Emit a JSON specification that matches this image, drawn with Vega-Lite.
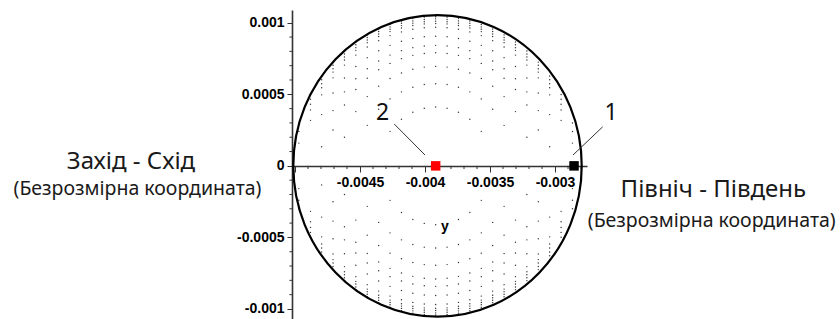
{
  "$schema": "https://vega.github.io/schema/vega-lite/v6.json",
  "width": 295,
  "height": 309,
  "autosize": {"type": "none"},
  "padding": {"left": 292, "top": 10, "right": 253, "bottom": 0},
  "background": "#ffffff",
  "config": {"view": {"stroke": null}},
  "layer": [
    {
      "data": {"values": [
        {"x": -0.0049704, "ys": [0.000159, 0.00024, 0.0003, -0.000159, -0.00024, -0.0003]},
        {"x": -0.0048807, "ys": [0.000318, 0.000391, 0.00043, 0.000465, 0.000499, -0.000318, -0.000391, -0.00043, -0.000465, -0.000499]},
        {"x": -0.004795, "ys": [0.000133, 0.000358, 0.000496, 0.000546, 0.000574, 0.000602, 0.000628, -0.000133, -0.000358, -0.000496, -0.000546, -0.000574, -0.000602, -0.000628]},
        {"x": -0.0047073, "ys": [0.000251, 0.000386, 0.000509, 0.000615, 0.000655, 0.000679, 0.000703, 0.000725, -0.000251, -0.000386, -0.000509, -0.000615, -0.000655, -0.000679, -0.000703, -0.000725]},
        {"x": -0.0046196, "ys": [0.0002, 0.000425, 0.000517, 0.000614, 0.000704, 0.00074, 0.000761, 0.000782, 0.000802, -0.0002, -0.000425, -0.000517, -0.000614, -0.000704, -0.00074, -0.000761, -0.000782, -0.000802]},
        {"x": -0.0045319, "ys": [0.000379, 0.000534, 0.000609, 0.000694, 0.000774, 0.000807, 0.000826, 0.000846, 0.000865, -0.000379, -0.000534, -0.000609, -0.000694, -0.000774, -0.000807, -0.000826, -0.000846, -0.000865]},
        {"x": -0.0044442, "ys": [0.000283, 0.000484, 0.000612, 0.000679, 0.000756, 0.00083, 0.000861, 0.000879, 0.000897, 0.000915, -0.000283, -0.000484, -0.000612, -0.000679, -0.000756, -0.00083, -0.000861, -0.000879, -0.000897, -0.000915]},
        {"x": -0.0043565, "ys": [0.000395, 0.000557, 0.000671, 0.000733, 0.000804, 0.000875, 0.000904, 0.000921, 0.000939, 0.000956, -0.000395, -0.000557, -0.000671, -0.000733, -0.000804, -0.000875, -0.000904, -0.000921, -0.000939, -0.000956]},
        {"x": -0.0042688, "ys": [0.000241, 0.000468, 0.00061, 0.000716, 0.000774, 0.000842, 0.00091, 0.000938, 0.000955, 0.000971, 0.000988, -0.000241, -0.000468, -0.00061, -0.000716, -0.000774, -0.000842, -0.00091, -0.000938, -0.000955, -0.000971, -0.000988]},
        {"x": -0.0041811, "ys": [0.000326, 0.000517, 0.000649, 0.000749, 0.000805, 0.000871, 0.000936, 0.000963, 0.00098, 0.000996, 0.001012, -0.000326, -0.000517, -0.000649, -0.000749, -0.000805, -0.000871, -0.000936, -0.000963, -0.00098, -0.000996, -0.001012]},
        {"x": -0.0040934, "ys": [0.000375, 0.000549, 0.000675, 0.000772, 0.000826, 0.00089, 0.000954, 0.000981, 0.000997, 0.001013, 0.001029, -0.000375, -0.000549, -0.000675, -0.000772, -0.000826, -0.00089, -0.000954, -0.000981, -0.000997, -0.001013, -0.001029]},
        {"x": -0.0040057, "ys": [0.000402, 0.000568, 0.00069, 0.000785, 0.000838, 0.000902, 0.000965, 0.000992, 0.001007, 0.001023, 0.001039, -0.000402, -0.000568, -0.00069, -0.000785, -0.000838, -0.000902, -0.000965, -0.000992, -0.001007, -0.001023, -0.001039]},
        {"x": -0.003918, "ys": [0.000411, 0.000574, 0.000695, 0.00079, 0.000842, 0.000906, 0.000969, 0.000995, 0.001011, 0.001027, 0.001042, -0.000411, -0.000574, -0.000695, -0.00079, -0.000842, -0.000906, -0.000969, -0.000995, -0.001011, -0.001027, -0.001042]},
        {"x": -0.0038303, "ys": [0.000402, 0.000568, 0.00069, 0.000785, 0.000838, 0.000902, 0.000965, 0.000992, 0.001007, 0.001023, 0.001039, -0.000402, -0.000568, -0.00069, -0.000785, -0.000838, -0.000902, -0.000965, -0.000992, -0.001007, -0.001023, -0.001039]},
        {"x": -0.0037426, "ys": [0.000375, 0.000549, 0.000675, 0.000772, 0.000826, 0.00089, 0.000954, 0.000981, 0.000997, 0.001013, 0.001029, -0.000375, -0.000549, -0.000675, -0.000772, -0.000826, -0.00089, -0.000954, -0.000981, -0.000997, -0.001013, -0.001029]},
        {"x": -0.0036549, "ys": [0.000326, 0.000517, 0.000649, 0.000749, 0.000805, 0.000871, 0.000936, 0.000963, 0.00098, 0.000996, 0.001012, -0.000326, -0.000517, -0.000649, -0.000749, -0.000805, -0.000871, -0.000936, -0.000963, -0.00098, -0.000996, -0.001012]},
        {"x": -0.0035672, "ys": [0.000241, 0.000468, 0.00061, 0.000716, 0.000774, 0.000842, 0.00091, 0.000938, 0.000955, 0.000971, 0.000988, -0.000241, -0.000468, -0.00061, -0.000716, -0.000774, -0.000842, -0.00091, -0.000938, -0.000955, -0.000971, -0.000988]},
        {"x": -0.0034795, "ys": [0.000395, 0.000557, 0.000671, 0.000733, 0.000804, 0.000875, 0.000904, 0.000921, 0.000939, 0.000956, -0.000395, -0.000557, -0.000671, -0.000733, -0.000804, -0.000875, -0.000904, -0.000921, -0.000939, -0.000956]},
        {"x": -0.0033918, "ys": [0.000283, 0.000484, 0.000612, 0.000679, 0.000756, 0.00083, 0.000861, 0.000879, 0.000897, 0.000915, -0.000283, -0.000484, -0.000612, -0.000679, -0.000756, -0.00083, -0.000861, -0.000879, -0.000897, -0.000915]},
        {"x": -0.0033041, "ys": [0.000379, 0.000534, 0.000609, 0.000694, 0.000774, 0.000807, 0.000826, 0.000846, 0.000865, -0.000379, -0.000534, -0.000609, -0.000694, -0.000774, -0.000807, -0.000826, -0.000846, -0.000865]},
        {"x": -0.0032164, "ys": [0.0002, 0.000425, 0.000517, 0.000614, 0.000704, 0.00074, 0.000761, 0.000782, 0.000802, -0.0002, -0.000425, -0.000517, -0.000614, -0.000704, -0.00074, -0.000761, -0.000782, -0.000802]},
        {"x": -0.0031287, "ys": [0.000251, 0.000386, 0.000509, 0.000615, 0.000655, 0.000679, 0.000703, 0.000725, -0.000251, -0.000386, -0.000509, -0.000615, -0.000655, -0.000679, -0.000703, -0.000725]},
        {"x": -0.003041, "ys": [0.000133, 0.000358, 0.000496, 0.000546, 0.000574, 0.000602, 0.000628, -0.000133, -0.000358, -0.000496, -0.000546, -0.000574, -0.000602, -0.000628]},
        {"x": -0.0029533, "ys": [0.000318, 0.000391, 0.00043, 0.000465, 0.000499, -0.000318, -0.000391, -0.00043, -0.000465, -0.000499]},
        {"x": -0.0028656, "ys": [0.000159, 0.00024, 0.0003, -0.000159, -0.00024, -0.0003]}
      ]},
      "transform": [{"flatten": ["ys"], "as": ["y"]}],
      "mark": {"type": "point", "shape": "circle", "filled": true, "size": 2, "color": "#333333", "opacity": 1},
      "encoding": {
        "x": {
          "field": "x", "type": "quantitative",
          "scale": {"domain": [-0.005023, -0.002754], "nice": false, "zero": false},
          "axis": {
            "title": null, "grid": false, "offset": -153,
            "values": [-0.005, -0.0045, -0.004, -0.0035, -0.003],
            "labelExpr": "datum.value > -0.00499 ? '-' + format(-datum.value, '~g') : ''",
            "labelFont": "Liberation Sans", "labelFontWeight": "bold", "labelFontSize": 14, "labelColor": "#000000",
            "labelPadding": 3, "labelOverlap": false, "labelFlush": false,
            "tickSize": 6, "tickColor": "#333333", "tickWidth": 1,
            "domainColor": "#333333", "domainWidth": 1.6
          }
        },
        "y": {
          "field": "y", "type": "quantitative",
          "scale": {"domain": [-0.00107, 0.001089], "nice": false, "zero": false},
          "axis": {
            "title": null, "grid": false,
            "values": [-0.001, -0.0005, 0, 0.0005, 0.001],
            "labelExpr": "datum.value < 0 ? '-' + format(-datum.value, '~g') : format(datum.value, '~g')",
            "labelFont": "Liberation Sans", "labelFontWeight": "bold", "labelFontSize": 14, "labelColor": "#000000",
            "labelPadding": 3, "labelOverlap": false, "labelFlush": false,
            "tickSize": 5, "tickColor": "#333333", "tickWidth": 1,
            "domainColor": "#333333", "domainWidth": 1.6
          }
        }
      }
    },
    {
      "data": {"values": [
        {"x": -0.0049}, {"x": -0.0048}, {"x": -0.0047}, {"x": -0.0046},
        {"x": -0.0044}, {"x": -0.0043}, {"x": -0.0042}, {"x": -0.0041},
        {"x": -0.0039}, {"x": -0.0038}, {"x": -0.0037}, {"x": -0.0036},
        {"x": -0.0034}, {"x": -0.0033}, {"x": -0.0032}, {"x": -0.0031},
        {"x": -0.0029}, {"x": -0.0028}
      ]},
      "mark": {"type": "rule", "color": "#333333", "strokeWidth": 1},
      "encoding": {
        "x": {"field": "x", "type": "quantitative"},
        "y": {"datum": 0, "type": "quantitative"},
        "y2": {"datum": -0.000022}
      }
    },
    {
      "data": {"values": [
        {"y": -0.0009}, {"y": -0.0008}, {"y": -0.0007}, {"y": -0.0006},
        {"y": -0.0004}, {"y": -0.0003}, {"y": -0.0002}, {"y": -0.0001},
        {"y": 0.0001}, {"y": 0.0002}, {"y": 0.0003}, {"y": 0.0004},
        {"y": 0.0006}, {"y": 0.0007}, {"y": 0.0008}, {"y": 0.0009}
      ]},
      "mark": {"type": "rule", "color": "#333333", "strokeWidth": 1},
      "encoding": {
        "y": {"field": "y", "type": "quantitative"},
        "x": {"datum": -0.005023, "type": "quantitative"},
        "x2": {"datum": -0.0050425}
      }
    },
    {
      "data": {"values": [{"x": -0.0039038, "y": 0}]},
      "mark": {
        "type": "point",
        "shape": "M-1,0C-1,-0.5776,-0.5523,-1.0458,0,-1.0458C0.5523,-1.0458,1,-0.5776,1,0C1,0.5776,0.5523,1.0458,0,1.0458C-0.5523,1.0458,-1,0.5776,-1,0Z",
        "size": 83175, "filled": false, "stroke": "#000000", "strokeWidth": 2.2, "opacity": 1
      },
      "encoding": {
        "x": {"field": "x", "type": "quantitative"},
        "y": {"field": "y", "type": "quantitative"}
      }
    },
    {
      "data": {"values": [
        {"x": -0.0042362, "y": 0.000292, "x2": -0.004, "y2": 0.0000758},
        {"x": -0.0026331, "y": 0.000273, "x2": -0.0028615, "y2": 0.0000758}
      ]},
      "mark": {"type": "rule", "color": "#333333", "strokeWidth": 1},
      "encoding": {
        "x": {"field": "x", "type": "quantitative"},
        "y": {"field": "y", "type": "quantitative"},
        "x2": {"field": "x2"},
        "y2": {"field": "y2"}
      }
    },
    {
      "data": {"values": [
        {"x": -0.003918, "y": 0, "point": "2"},
        {"x": -0.0028538, "y": 0, "point": "1"}
      ]},
      "mark": {"type": "point", "shape": "square", "filled": true, "size": 90, "opacity": 1},
      "encoding": {
        "x": {"field": "x", "type": "quantitative"},
        "y": {"field": "y", "type": "quantitative"},
        "color": {"field": "point", "type": "nominal", "scale": {"domain": ["1", "2"], "range": ["#000000", "#ff0000"]}, "legend": null}
      }
    },
    {
      "data": {"values": [
        {"x": -0.0043269, "y": 0.000367, "label": "2"},
        {"x": -0.0025692, "y": 0.000367, "label": "1"}
      ]},
      "mark": {"type": "text", "font": "Noto Sans", "fontSize": 23, "color": "#111111", "align": "center", "baseline": "middle"},
      "encoding": {
        "x": {"field": "x", "type": "quantitative"},
        "y": {"field": "y", "type": "quantitative"},
        "text": {"field": "label"}
      }
    },
    {
      "data": {"values": [{"x": -0.0038477, "y": -0.000427, "label": "y"}]},
      "mark": {"type": "text", "font": "Liberation Sans", "fontWeight": "bold", "fontSize": 14, "color": "#000000", "align": "center", "baseline": "middle"},
      "encoding": {
        "x": {"field": "x", "type": "quantitative"},
        "y": {"field": "y", "type": "quantitative"},
        "text": {"field": "label"}
      }
    },
    {
      "data": {"values": [
        {"x": -0.0062615, "y": -0.0000241, "label": "Захід - Схід"},
        {"x": -0.0017823, "y": -0.0002155, "label": "Північ - Південь"}
      ]},
      "mark": {"type": "text", "font": "Noto Sans", "fontSize": 24, "color": "#1a1a1a", "align": "center", "baseline": "alphabetic"},
      "encoding": {
        "x": {"field": "x", "type": "quantitative"},
        "y": {"field": "y", "type": "quantitative"},
        "text": {"field": "label"}
      }
    },
    {
      "data": {"values": [
        {"x": -0.0062115, "y": -0.0002036, "label": "(Безрозмірна координата)"},
        {"x": -0.0017946, "y": -0.000425, "label": "(Безрозмірна координата)"}
      ]},
      "mark": {"type": "text", "font": "Noto Sans", "fontSize": 19.5, "color": "#1a1a1a", "align": "center", "baseline": "alphabetic"},
      "encoding": {
        "x": {"field": "x", "type": "quantitative"},
        "y": {"field": "y", "type": "quantitative"},
        "text": {"field": "label"}
      }
    }
  ]
}
